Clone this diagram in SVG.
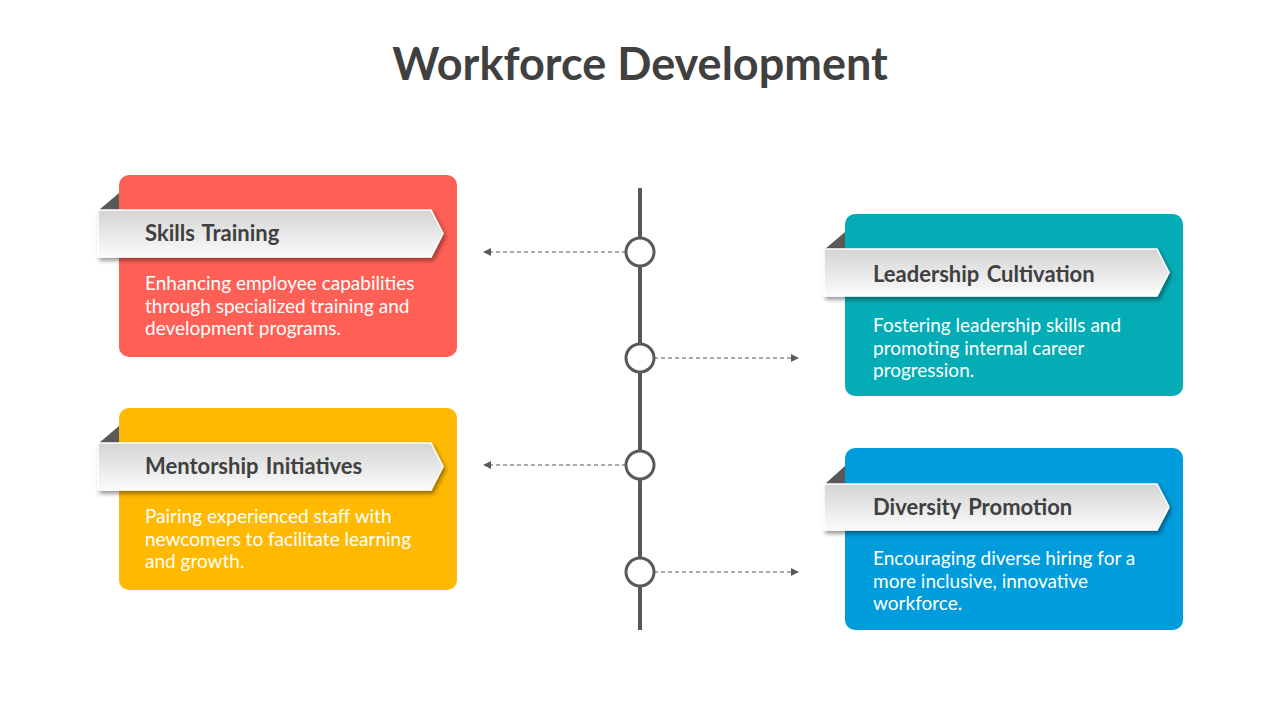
<svg xmlns="http://www.w3.org/2000/svg" width="1280" height="720" viewBox="0 0 1280 720">
<defs>
<linearGradient id="bg" x1="0" y1="0" x2="0" y2="1">
<stop offset="0" stop-color="#d4d4d4"/>
<stop offset="1" stop-color="#fbfbfb"/>
</linearGradient>
<filter id="sh" x="-10%" y="-30%" width="120%" height="170%">
<feDropShadow dx="2" dy="3" stdDeviation="2" flood-color="#000" flood-opacity="0.4"/>
</filter>
<marker id="ah" viewBox="0 0 10 10" refX="9" refY="5" markerWidth="8" markerHeight="8" markerUnits="userSpaceOnUse" orient="auto">
<path d="M0,0 L10,5 L0,10 Z" fill="#595959"/>
</marker>
</defs>
<style>
.title{font-family:Lato,"Open Sans",sans-serif;font-weight:700;font-size:45px;fill:#404040}
.bt{font-family:Lato,"Open Sans",sans-serif;font-weight:700;font-size:22px;fill:#404040;word-spacing:2px}
.desc{font-family:Lato,"Open Sans",sans-serif;font-size:19px;fill:#ffffff}
.banner{fill:url(#bg);stroke:#ffffff;stroke-width:1.5;filter:url(#sh)}
.fold{fill:#595959}
.dash{stroke:#595959;stroke-width:1;stroke-dasharray:4 3;fill:none}
.node{fill:#ffffff;stroke:#595959;stroke-width:3}
</style>
<rect width="1280" height="720" fill="#ffffff"/>
<text class="title" x="640" y="80" text-anchor="middle">Workforce Development</text>

<g id="timeline">
<line x1="640" y1="188" x2="640" y2="630" stroke="#595959" stroke-width="4"/>
</g>

<g id="connectors">
<line class="dash" x1="626" y1="252" x2="484" y2="252" marker-end="url(#ah)"/>
<line class="dash" x1="654" y1="358" x2="798" y2="358" marker-end="url(#ah)"/>
<line class="dash" x1="626" y1="465" x2="484" y2="465" marker-end="url(#ah)"/>
<line class="dash" x1="654" y1="572" x2="798" y2="572" marker-end="url(#ah)"/>
</g>

<g id="nodes-circles">
<circle class="node" cx="640" cy="252" r="14"/>
<circle class="node" cx="640" cy="358" r="14"/>
<circle class="node" cx="640" cy="465" r="14"/>
<circle class="node" cx="640" cy="572" r="14"/>
</g>

<g id="skills-training">
<rect x="119" y="175" width="338" height="182" rx="10" fill="#ff5f55"/>
<path class="fold" d="M99,210 L119,193 L119,210 Z"/>
<path class="banner" d="M98,210 L431,210 L443,233.5 L431,257 L98,257 Z"/>
<text class="bt" x="145" y="241">Skills Training</text>
<text class="desc" x="145" y="290">Enhancing employee capabilities</text>
<text class="desc" x="145" y="313">through specialized training and</text>
<text class="desc" x="145" y="335">development programs.</text>
</g>

<g id="leadership-cultivation">
<rect x="845" y="214" width="338" height="182" rx="10" fill="#04acb5"/>
<path class="fold" d="M825,249 L845,232 L845,249 Z"/>
<path class="banner" d="M824,249 L1157,249 L1169,272.5 L1157,296 L824,296 Z"/>
<text class="bt" x="873" y="282">Leadership Cultivation</text>
<text class="desc" x="873" y="332">Fostering leadership skills and</text>
<text class="desc" x="873" y="355">promoting internal career</text>
<text class="desc" x="873" y="377">progression.</text>
</g>

<g id="mentorship-initiatives">
<rect x="119" y="408" width="338" height="182" rx="10" fill="#ffb900"/>
<path class="fold" d="M99,443 L119,426 L119,443 Z"/>
<path class="banner" d="M98,443 L431,443 L443,466.5 L431,490 L98,490 Z"/>
<text class="bt" x="145" y="474">Mentorship Initiatives</text>
<text class="desc" x="145" y="523">Pairing experienced staff with</text>
<text class="desc" x="145" y="546">newcomers to facilitate learning</text>
<text class="desc" x="145" y="568">and growth.</text>
</g>

<g id="diversity-promotion">
<rect x="845" y="448" width="338" height="182" rx="10" fill="#009cdb"/>
<path class="fold" d="M825,484 L845,466 L845,484 Z"/>
<path class="banner" d="M824,484 L1157,484 L1169,507 L1157,530 L824,530 Z"/>
<text class="bt" x="873" y="515">Diversity Promotion</text>
<text class="desc" x="873" y="565">Encouraging diverse hiring for a</text>
<text class="desc" x="873" y="588">more inclusive, innovative</text>
<text class="desc" x="873" y="610">workforce.</text>
</g>
</svg>
